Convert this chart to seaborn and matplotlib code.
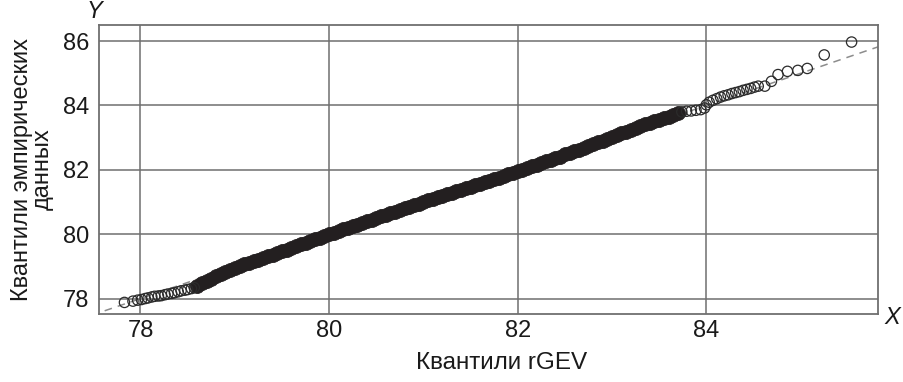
import matplotlib
matplotlib.use("Agg")
import matplotlib.pyplot as plt
import seaborn as sns

sns.set_style("white")
plt.rcParams['font.family'] = ['Liberation Sans', 'DejaVu Sans']

# dense central band of the Q-Q plot (theoretical rGEV quantile, empirical quantile)
band_x = [78.60, 78.65, 78.70, 78.75, 78.80, 78.85, 78.90, 78.95, 79.00, 79.05,
          79.10, 79.15, 79.20, 79.25, 79.30, 79.35, 79.40, 79.45, 79.50, 79.55,
          79.60, 79.65, 79.70, 79.75, 79.80, 79.85, 79.90, 79.95, 80.00, 80.05,
          80.10, 80.15, 80.20, 80.25, 80.30, 80.35, 80.40, 80.45, 80.50, 80.55,
          80.60, 80.65, 80.70, 80.75, 80.80, 80.85, 80.90, 80.95, 81.00, 81.05,
          81.10, 81.15, 81.20, 81.25, 81.30, 81.35, 81.40, 81.45, 81.50, 81.55,
          81.60, 81.65, 81.70, 81.75, 81.80, 81.85, 81.90, 81.95, 82.00, 82.05,
          82.10, 82.15, 82.20, 82.25, 82.30, 82.35, 82.40, 82.45, 82.50, 82.55,
          82.60, 82.65, 82.70, 82.75, 82.80, 82.85, 82.90, 82.95, 83.00, 83.05,
          83.10, 83.15, 83.20, 83.25, 83.30, 83.35, 83.40, 83.45, 83.50, 83.55,
          83.60, 83.65, 83.70]
band_y = [78.40, 78.47, 78.55, 78.62, 78.70, 78.77, 78.84, 78.90, 78.96, 79.01,
          79.06, 79.11, 79.16, 79.21, 79.26, 79.31, 79.36, 79.42, 79.47, 79.52,
          79.57, 79.62, 79.68, 79.73, 79.78, 79.84, 79.89, 79.94, 80.00, 80.05,
          80.10, 80.15, 80.20, 80.25, 80.30, 80.35, 80.40, 80.45, 80.50, 80.55,
          80.60, 80.65, 80.70, 80.75, 80.80, 80.85, 80.90, 80.95, 81.00, 81.05,
          81.09, 81.14, 81.19, 81.24, 81.28, 81.33, 81.38, 81.43, 81.47, 81.52,
          81.57, 81.62, 81.66, 81.71, 81.76, 81.81, 81.86, 81.91, 81.96, 82.01,
          82.06, 82.11, 82.16, 82.21, 82.26, 82.31, 82.36, 82.41, 82.48, 82.53,
          82.58, 82.63, 82.69, 82.74, 82.79, 82.85, 82.90, 82.96, 83.01, 83.07,
          83.13, 83.18, 83.24, 83.30, 83.35, 83.41, 83.46, 83.51, 83.55, 83.60,
          83.65, 83.70, 83.76]

# open-circle points at the lower tail
low_x = [77.83, 77.92, 77.97, 78.01, 78.05, 78.08, 78.12, 78.15, 78.19, 78.22,
         78.26, 78.29, 78.33, 78.36, 78.40, 78.43, 78.47, 78.50, 78.54, 78.57]
low_y = [77.88, 77.92, 77.95, 77.97, 78.00, 78.02, 78.05, 78.07, 78.08, 78.09,
         78.12, 78.14, 78.16, 78.18, 78.21, 78.24, 78.26, 78.28, 78.31, 78.34]

# open-circle points at the upper tail
up_x = [83.74, 83.79, 83.84, 83.89, 83.94, 83.98, 84.00, 84.03, 84.07, 84.11,
        84.15, 84.19, 84.23, 84.27, 84.31, 84.35, 84.39, 84.43, 84.47, 84.51,
        84.55, 84.62, 84.69, 84.76, 84.86, 84.97, 85.07, 85.25, 85.54]
up_y = [83.80, 83.82, 83.83, 83.85, 83.87, 83.92, 84.02, 84.10, 84.16, 84.21,
        84.26, 84.30, 84.33, 84.37, 84.40, 84.43, 84.47, 84.50, 84.53, 84.57,
        84.60, 84.60, 84.75, 84.96, 85.06, 85.09, 85.15, 85.57, 85.97]

# reference line y = x
ref_x = [77.62, 85.82]
ref_y = [77.62, 85.82]

x_ticks = [78, 80, 82, 84]
y_ticks = [78, 80, 82, 84, 86]
x_label = "Квантили rGEV"
y_label = "Квантили эмпирических\nданных"

W, H = 904, 382
fig = plt.figure(figsize=(W / 100, H / 100), dpi=100)
ax = fig.add_axes([99 / W, 1 - 314 / H, 779 / W, 289 / H])

grid_c = '#6f6f6f'
text_c = '#1a1a1a'
pt_c = '#231f20'

sns.lineplot(x=ref_x, y=ref_y, ax=ax, color='#8c8c8c', linewidth=1.1,
             linestyle=(0, (5, 4)), zorder=2)
sns.scatterplot(x=band_x, y=band_y, ax=ax, s=100, color=pt_c, edgecolor=pt_c,
                linewidth=0.6, zorder=3)
sns.scatterplot(x=low_x, y=low_y, ax=ax, s=55, marker='o', color=pt_c,
                facecolor='none', edgecolor='#2b2b2b', linewidth=0.9, zorder=4)
sns.scatterplot(x=up_x, y=up_y, ax=ax, s=55, marker='o', color=pt_c,
                facecolor='none', edgecolor='#2b2b2b', linewidth=0.9, zorder=4)

ax.set_xlim(77.56, 85.82)
ax.set_ylim(77.52, 86.5)
ax.set_xticks(x_ticks)
ax.set_yticks(y_ticks)
ax.set_xticklabels([str(t) for t in x_ticks])
ax.set_yticklabels([str(t) for t in y_ticks])
ax.grid(True, color=grid_c, linewidth=1.1)
ax.set_axisbelow(True)
for sp in ax.spines.values():
    sp.set_visible(True)
    sp.set_color(grid_c)
    sp.set_linewidth(1.3)
ax.tick_params(axis='both', length=0, labelsize=17, colors=text_c)
ax.tick_params(axis='x', pad=4)
ax.tick_params(axis='y', pad=7)

ax.set_xlabel(x_label, fontsize=17.5, color=text_c)
ax.xaxis.set_label_coords((502 - 99) / 779, -0.13)
ax.xaxis.label.set_va('top')
ax.set_ylabel(y_label, fontsize=17, color=text_c, linespacing=0.95)
ax.yaxis.set_label_coords(-(99 - 54) / 779, 0.50)

fig.text(94 / W, 1 - 12 / H, "Y", fontsize=17, style='italic', color=text_c,
         ha='center', va='center')
fig.text(892 / W, 1 - 318 / H, "X", fontsize=17, style='italic', color=text_c,
         ha='center', va='center')

fig.savefig("out.png", dpi=100)
